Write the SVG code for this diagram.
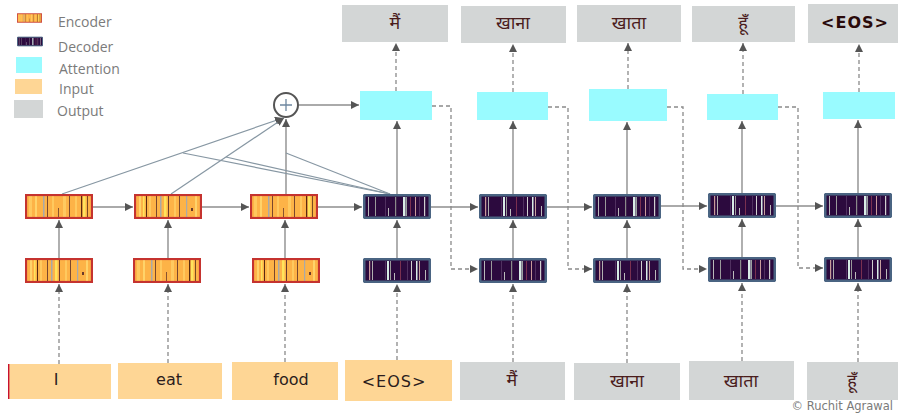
<svg xmlns="http://www.w3.org/2000/svg" xmlns:xlink="http://www.w3.org/1999/xlink" width="898" height="413" viewBox="0 0 898 413">
<style>
.leg{font-family:"Open Sans","DejaVu Sans",sans-serif;font-size:14px;fill:#7b7b7b}
.lbl{font-family:"DejaVu Sans","Noto Sans Devanagari","Lohit Devanagari","Noto Sans",sans-serif;font-size:16px;text-anchor:middle}
.hi{font-size:18px}
.in{fill:#fed695}
.out{fill:#d3d6d6}
.att{fill:#99fbff}
.intx{fill:#2b1d1d}
.outtx{fill:#4a1c1c}
.solid{stroke:#8e8e8e;stroke-width:1.4;fill:none}
.dash{stroke:#8a8a8a;stroke-width:1.3;fill:none;stroke-dasharray:4 3}
.diag{stroke:#8797a3;stroke-width:1.2;fill:none}
.copy{font-family:"DejaVu Sans",sans-serif;font-size:11.5px;fill:#7a7a7a}
</style>
<defs>
<marker id="ah" markerUnits="userSpaceOnUse" markerWidth="9" markerHeight="9" refX="8" refY="4" orient="auto">
<path d="M0,0 L8,4 L0,8 z" fill="#555"/>
</marker>
<symbol id="encA" viewBox="0 0 68 25">
<rect x="1" y="1" width="66" height="23" fill="#fdb347"/>
<rect x="4" y="2" width="3" height="21" fill="#ffc95e"/>
<rect x="10" y="2" width="2" height="21" fill="#ffd36a"/>
<rect x="18" y="2" width="1.5" height="21" fill="#a9a9a9"/>
<rect x="22" y="2" width="0.9" height="21" fill="#6b3a2a"/>
<rect x="27" y="2" width="2" height="21" fill="#ffc95e"/>
<rect x="33" y="14" width="0.8" height="9" fill="#6b3a2a"/>
<rect x="38" y="2" width="3" height="21" fill="#ffca60"/>
<rect x="44" y="2" width="0.9" height="21" fill="#6b3a2a"/>
<rect x="50" y="2" width="2" height="21" fill="#ffc95e"/>
<rect x="56" y="2" width="1.2" height="21" fill="#5a2a10"/>
<rect x="58" y="2" width="2.5" height="21" fill="#ffe45c"/>
<rect x="62" y="2" width="1" height="21" fill="#7a4a20"/>
<rect x="1" y="1" width="66" height="23" fill="none" stroke="#c5332f" stroke-width="2.2"/>
</symbol>
<symbol id="encB" viewBox="0 0 68 25">
<rect x="1" y="1" width="66" height="23" fill="#fdb347"/>
<rect x="5" y="2" width="2" height="21" fill="#ffd36a"/>
<rect x="9" y="2" width="1.5" height="21" fill="#ffe45c"/>
<rect x="12" y="2" width="1" height="21" fill="#5a2a10"/>
<rect x="15" y="2" width="2" height="21" fill="#ffc95e"/>
<rect x="22" y="2" width="0.9" height="21" fill="#6b3a2a"/>
<rect x="26" y="2" width="1.5" height="21" fill="#a9a9a9"/>
<rect x="30" y="2" width="2.5" height="21" fill="#ffe45c"/>
<rect x="34" y="2" width="1" height="21" fill="#6b3a2a"/>
<rect x="40" y="2" width="2" height="21" fill="#ffc95e"/>
<rect x="45" y="2" width="0.9" height="21" fill="#6b3a2a"/>
<rect x="52" y="2" width="1.2" height="21" fill="#a9a9a9"/>
<rect x="57" y="14" width="2" height="3" fill="#6b3a2a"/>
<rect x="61" y="2" width="2" height="21" fill="#ffd36a"/>
<rect x="1" y="1" width="66" height="23" fill="none" stroke="#c5332f" stroke-width="2.2"/>
</symbol>
<symbol id="decA" viewBox="0 0 68 25">
<rect x="1" y="1" width="66" height="23" fill="#2c0a3e"/>
<rect x="5" y="3" width="1" height="19" fill="#b9b9b9"/>
<rect x="12" y="3" width="1" height="19" fill="#9a9a9a"/>
<rect x="22" y="3" width="0.8" height="19" fill="#5a3a6a"/>
<rect x="25" y="14" width="1" height="8" fill="#bbbbbb"/>
<rect x="32" y="3" width="1.2" height="19" fill="#8a8a8a"/>
<rect x="40" y="3" width="2.5" height="19" fill="#d8ece6"/>
<rect x="43" y="3" width="1" height="19" fill="#9aa0a0"/>
<rect x="47" y="3" width="1" height="19" fill="#7a3050"/>
<rect x="52" y="3" width="1" height="19" fill="#c89a9a"/>
<rect x="56" y="3" width="0.8" height="19" fill="#5a3a6a"/>
<rect x="61" y="3" width="1.2" height="19" fill="#cfcfcf"/>
<rect x="1.2" y="1.2" width="65.6" height="22.6" rx="1" fill="none" stroke="#4a6482" stroke-width="2.6"/>
</symbol>
<symbol id="decB" viewBox="0 0 68 25">
<rect x="1" y="1" width="66" height="23" fill="#2c0a3e"/>
<rect x="6" y="3" width="1.2" height="19" fill="#c89a9a"/>
<rect x="9" y="3" width="1" height="19" fill="#b0b0b0"/>
<rect x="22" y="3" width="0.8" height="19" fill="#5a3a6a"/>
<rect x="24" y="3" width="2" height="19" fill="#d8ece6"/>
<rect x="27" y="3" width="1" height="19" fill="#9a9a9a"/>
<rect x="31" y="15" width="1" height="7" fill="#bbbbbb"/>
<rect x="37" y="3" width="1" height="19" fill="#7a3050"/>
<rect x="44" y="3" width="0.8" height="19" fill="#5a3a6a"/>
<rect x="48" y="3" width="1" height="19" fill="#cfcfcf"/>
<rect x="53" y="3" width="1.5" height="19" fill="#d8ece6"/>
<rect x="56" y="3" width="1" height="19" fill="#c8a0a0"/>
<rect x="62" y="12" width="1" height="10" fill="#bbbbbb"/>
<rect x="1.2" y="1.2" width="65.6" height="22.6" rx="1" fill="none" stroke="#4a6482" stroke-width="2.6"/>
</symbol>
</defs>
<rect width="898" height="413" fill="#ffffff"/>

<g id="legend">
<use xlink:href="#encA" href="#encA" x="17" y="10" width="25" height="16"/>
<text class="leg" x="58" y="27">Encoder</text>
<use xlink:href="#decA" href="#decA" x="17" y="33" width="26" height="17"/>
<text class="leg" x="58" y="52">Decoder</text>
<rect class="att" x="16" y="57" width="26" height="16"/>
<text class="leg" x="59" y="74">Attention</text>
<rect class="in" x="15" y="79" width="27" height="15"/>
<text class="leg" x="59" y="94">Input</text>
<rect class="out" x="14" y="100" width="29" height="18"/>
<text class="leg" x="57" y="116">Output</text>
</g>

<g id="connectors">
<line class="dash" x1="59" y1="364" x2="59" y2="284" marker-end="url(#ah)"/>
<line class="dash" x1="168" y1="363" x2="168" y2="284" marker-end="url(#ah)"/>
<line class="dash" x1="285" y1="362" x2="285" y2="284" marker-end="url(#ah)"/>
<line class="dash" x1="397" y1="360" x2="397" y2="284" marker-end="url(#ah)"/>
<line class="dash" x1="513" y1="362" x2="513" y2="284" marker-end="url(#ah)"/>
<line class="dash" x1="627" y1="363" x2="627" y2="284" marker-end="url(#ah)"/>
<line class="dash" x1="742" y1="361" x2="742" y2="283" marker-end="url(#ah)"/>
<line class="dash" x1="858" y1="362" x2="858" y2="283" marker-end="url(#ah)"/>
<line class="solid" x1="59" y1="258" x2="59" y2="220" marker-end="url(#ah)"/>
<line class="solid" x1="168" y1="258" x2="168" y2="220" marker-end="url(#ah)"/>
<line class="solid" x1="285" y1="258" x2="285" y2="220" marker-end="url(#ah)"/>
<line class="solid" x1="397" y1="258" x2="397" y2="220" marker-end="url(#ah)"/>
<line class="solid" x1="513" y1="258" x2="513" y2="220" marker-end="url(#ah)"/>
<line class="solid" x1="627" y1="258" x2="627" y2="220" marker-end="url(#ah)"/>
<line class="solid" x1="742" y1="257" x2="742" y2="219" marker-end="url(#ah)"/>
<line class="solid" x1="858" y1="257" x2="858" y2="219" marker-end="url(#ah)"/>
<line class="solid" x1="93" y1="207" x2="133" y2="207" marker-end="url(#ah)"/>
<line class="solid" x1="202" y1="207" x2="249" y2="207" marker-end="url(#ah)"/>
<line class="solid" x1="318" y1="207" x2="362" y2="207" marker-end="url(#ah)"/>
<line class="solid" x1="431" y1="207" x2="478" y2="207" marker-end="url(#ah)"/>
<line class="solid" x1="547" y1="207" x2="592" y2="207" marker-end="url(#ah)"/>
<line class="solid" x1="661" y1="206" x2="707" y2="206" marker-end="url(#ah)"/>
<line class="solid" x1="776" y1="206" x2="823" y2="206" marker-end="url(#ah)"/>
<line class="solid" x1="397" y1="194" x2="397" y2="121" marker-end="url(#ah)"/>
<line class="solid" x1="513" y1="194" x2="513" y2="121" marker-end="url(#ah)"/>
<line class="solid" x1="627" y1="194" x2="627" y2="122" marker-end="url(#ah)"/>
<line class="solid" x1="742" y1="193" x2="742" y2="121" marker-end="url(#ah)"/>
<line class="solid" x1="858" y1="193" x2="858" y2="120" marker-end="url(#ah)"/>
<line class="dash" x1="396" y1="91" x2="396" y2="43" marker-end="url(#ah)"/>
<line class="dash" x1="513" y1="92" x2="513" y2="44" marker-end="url(#ah)"/>
<line class="dash" x1="628" y1="89" x2="628" y2="43" marker-end="url(#ah)"/>
<line class="dash" x1="743" y1="94" x2="743" y2="43" marker-end="url(#ah)"/>
<line class="dash" x1="859" y1="92" x2="859" y2="44" marker-end="url(#ah)"/>
<polyline class="dash" points="432,106 451,106 451,269 478,269" marker-end="url(#ah)"/>
<polyline class="dash" points="548,107 568,107 568,269 592,269" marker-end="url(#ah)"/>
<polyline class="dash" points="667,107 683,107 683,269 707,269" marker-end="url(#ah)"/>
<polyline class="dash" points="778,107 798,107 798,268 823,268" marker-end="url(#ah)"/>
<line class="diag" x1="62" y1="194" x2="283" y2="118" marker-end="url(#ah)"/>
<line class="diag" x1="171" y1="194" x2="284" y2="118" marker-end="url(#ah)"/>
<line class="solid" x1="286" y1="194" x2="286" y2="119" marker-end="url(#ah)"/>
<line class="diag" x1="390" y1="194" x2="183" y2="153"/>
<line class="diag" x1="390" y1="194" x2="226" y2="157"/>
<line class="diag" x1="390" y1="194" x2="286" y2="153"/>
<line class="solid" x1="299" y1="105" x2="359" y2="105" marker-end="url(#ah)"/>
</g>

<g id="sum">
<circle cx="286" cy="105" r="12" fill="#ffffff" stroke="#555" stroke-width="2"/>
<path d="M280,105 H292 M286,99 V111" stroke="#6d87a0" stroke-width="1.3"/>
</g>

<g id="enc1"><use xlink:href="#encA" href="#encA" x="25" y="194" width="68" height="25"/><use xlink:href="#encB" href="#encB" x="25" y="258" width="68" height="25"/></g>
<g id="enc2"><use xlink:href="#encB" href="#encB" x="134" y="194" width="68" height="25"/><use xlink:href="#encA" href="#encA" x="133" y="258" width="68" height="25"/></g>
<g id="enc3"><use xlink:href="#encA" href="#encA" x="250" y="194" width="68" height="25"/><use xlink:href="#encB" href="#encB" x="252" y="258" width="68" height="25"/></g>

<g id="dec1"><use xlink:href="#decA" href="#decA" x="363" y="194" width="68" height="25"/><use xlink:href="#decB" href="#decB" x="363" y="258" width="68" height="25"/></g>
<g id="dec2"><use xlink:href="#decB" href="#decB" x="479" y="194" width="68" height="25"/><use xlink:href="#decA" href="#decA" x="479" y="258" width="68" height="25"/></g>
<g id="dec3"><use xlink:href="#decA" href="#decA" x="593" y="194" width="68" height="25"/><use xlink:href="#decB" href="#decB" x="593" y="258" width="68" height="25"/></g>
<g id="dec4"><use xlink:href="#decB" href="#decB" x="708" y="193" width="68" height="25"/><use xlink:href="#decA" href="#decA" x="708" y="257" width="68" height="25"/></g>
<g id="dec5"><use xlink:href="#decA" href="#decA" x="824" y="193" width="68" height="25"/><use xlink:href="#decB" href="#decB" x="824" y="257" width="68" height="25"/></g>

<g id="att1"><rect class="att" x="360" y="91" width="72" height="29"/></g>
<g id="att2"><rect class="att" x="477" y="92" width="71" height="28"/></g>
<g id="att3"><rect class="att" x="589" y="89" width="78" height="32"/></g>
<g id="att4"><rect class="att" x="707" y="94" width="71" height="26"/></g>
<g id="att5"><rect class="att" x="823" y="92" width="72" height="27"/></g>

<g id="out1"><rect class="out" x="342" y="5" width="106" height="37"/><text class="lbl hi outtx" x="395" y="29">मैं</text></g>
<g id="out2"><rect class="out" x="461" y="6" width="105" height="37"/><text class="lbl hi outtx" x="513" y="29">खाना</text></g>
<g id="out3"><rect class="out" x="577" y="5" width="104" height="37"/><text class="lbl hi outtx" x="629" y="29">खाता</text></g>
<g id="out4"><rect class="out" x="692" y="6" width="103" height="36"/><text class="lbl hi outtx" x="743" y="29">हूँ</text></g>
<g id="out5"><rect class="out" x="808" y="4" width="90" height="39"/><text class="lbl" x="855" y="28" letter-spacing="1" fill="#2a0a0a" font-weight="600">&lt;EOS&gt;</text></g>

<g id="in1"><rect class="in" x="8" y="364" width="103" height="35"/><line x1="8.7" y1="364" x2="8.7" y2="399" stroke="#c8102e" stroke-width="1.4"/><text class="lbl intx" x="56" y="385">I</text></g>
<g id="in2"><rect class="in" x="118" y="363" width="104" height="36"/><text class="lbl intx" x="169" y="385">eat</text></g>
<g id="in3"><rect class="in" x="232" y="362" width="106" height="38"/><text class="lbl intx" x="291" y="385">food</text></g>
<g id="in4"><rect class="in" x="345" y="360" width="107" height="41"/><text class="lbl intx" x="394" y="387" letter-spacing="1">&lt;EOS&gt;</text></g>
<g id="in5"><rect class="out" x="460" y="362" width="105" height="38"/><text class="lbl hi outtx" x="512" y="386">मैं</text></g>
<g id="in6"><rect class="out" x="574" y="363" width="106" height="37"/><text class="lbl hi outtx" x="627" y="387">खाना</text></g>
<g id="in7"><rect class="out" x="689" y="361" width="105" height="39"/><text class="lbl hi outtx" x="741" y="387">खाता</text></g>
<g id="in8"><rect class="out" x="807" y="362" width="91" height="38"/><text class="lbl hi outtx" x="852" y="387">हूँ</text></g>

<text class="copy" x="893" y="410" text-anchor="end">© Ruchit Agrawal</text>
</svg>
